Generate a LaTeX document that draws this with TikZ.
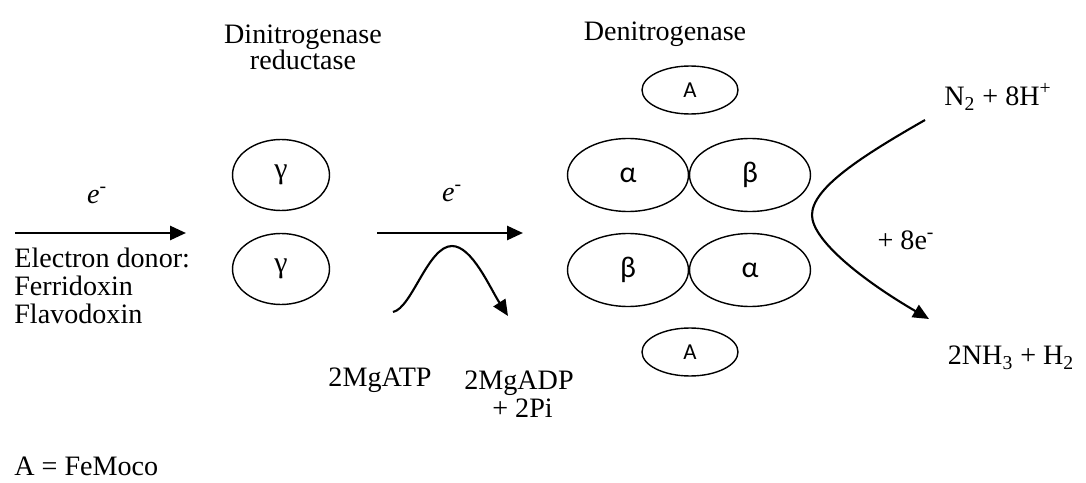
\documentclass[tikz,border=0pt]{standalone}
\usepackage{fontspec}
\setmainfont{Liberation Serif}
\newfontfamily\calib{Carlito}
\usetikzlibrary{arrows.meta,shapes.geometric}

\tikzset{
  txt/.style={inner sep=0pt, font=\fontsize{16}{19}\selectfont},
  txtl/.style={txt, anchor=west, align=left},
  sub/.style={draw, line width=0.8pt, ellipse, inner sep=0pt,
    minimum width=2.42cm, minimum height=1.46cm,
    font=\calib\fontsize{17}{20}\selectfont},
  gam/.style={sub, minimum width=1.94cm, minimum height=1.42cm,
    font=\fontsize{17}{20}\selectfont},
  cof/.style={sub, minimum width=1.92cm, minimum height=0.96cm,
    font=\calib\fontsize{13}{15}\selectfont},
  flow/.style={line width=1.5pt, -{Triangle[length=0.32cm, width=0.28cm]}},
  curvearrow/.style={line width=1.2pt, -{Triangle[length=0.32cm, width=0.28cm]}},
}
\newcommand{\elec}{\textit{e}\textsuperscript{-}}

\begin{document}
\begin{tikzpicture}[x=0.02cm, y=-0.02cm]
  \useasboundingbox (0,0) rectangle (1086,483);

  % headings
  \node[txt, align=center, font=\fontsize{16}{14.8}\selectfont] (hred) at (303,47)
    {Dinitrogenase\\reductase};
  \node[txt] (hden) at (665,34) {Denitrogenase};

  % electron donor and first transfer
  \coordinate (d0) at (15,233);
  \coordinate (d1) at (186,233);
  \draw[flow] (d0) -- (d1);
  \node[txt] (e1) at (97,195) {\elec};
  \node[txtl, align=left, font=\fontsize{16}{15.8}\selectfont] (donor) at (14,286)
    {Electron donor:\\Ferridoxin\\Flavodoxin};

  % reductase subunits
  \node[gam] (g1) at (281,175) {\raisebox{-2pt}{γ}};
  \node[gam] (g2) at (281,269) {\raisebox{-2pt}{γ}};

  % electron transfer to the MoFe protein, driven by ATP
  \coordinate (m0) at (377,233);
  \coordinate (m1) at (523,233);
  \draw[flow] (m0) -- (m1);
  \node[txt] (e2) at (452,193) {\elec};
  \coordinate (b0) at (393,312);
  \coordinate (bt) at (452,246);
  \coordinate (b1) at (508,316);
  \draw[curvearrow] (b0) .. controls (412,308) and (428,246) .. (bt)
              .. controls (472,246) and (490,288) .. (b1);
  \node[txt] (atp) at (380,380) {2MgATP};
  \node[txt, align=center, font=\fontsize{16}{15.9}\selectfont] (adp) at (519,394)
    {2MgADP\\\ + 2Pi};

  % MoFe protein
  \node[cof] (A1) at (690,90) {A};
  \node[sub] (a1) at (628,175) {\raisebox{-2pt}{α}};
  \node[sub] (b1n) at (750,175) {β};
  \node[sub] (b2n) at (628,270) {β};
  \node[sub] (a2) at (750,270) {\raisebox{-2pt}{α}};
  \node[cof] (A2) at (690,352) {A};

  % nitrogen reduction
  \node[txt] (n2) at (998,97) {N\textsubscript{2} + 8H\textsuperscript{+}};
  \node[txt] (nh3) at (1011,358) {2NH\textsubscript{3} + H\textsubscript{2}};
  \node[txt] (e8) at (906,240) {+ 8e\textsuperscript{-}};
  \coordinate (r0) at (925,120);
  \coordinate (rv) at (812,215);
  \coordinate (r1) at (929,319);
  \draw[curvearrow] (r0) .. controls (862,156) and (812,188) .. (rv)
              .. controls (812,240) and (862,280) .. (r1);

  % legend
  \node[txtl] (key) at (14,466) {A = FeMoco};
\end{tikzpicture}
\end{document}
